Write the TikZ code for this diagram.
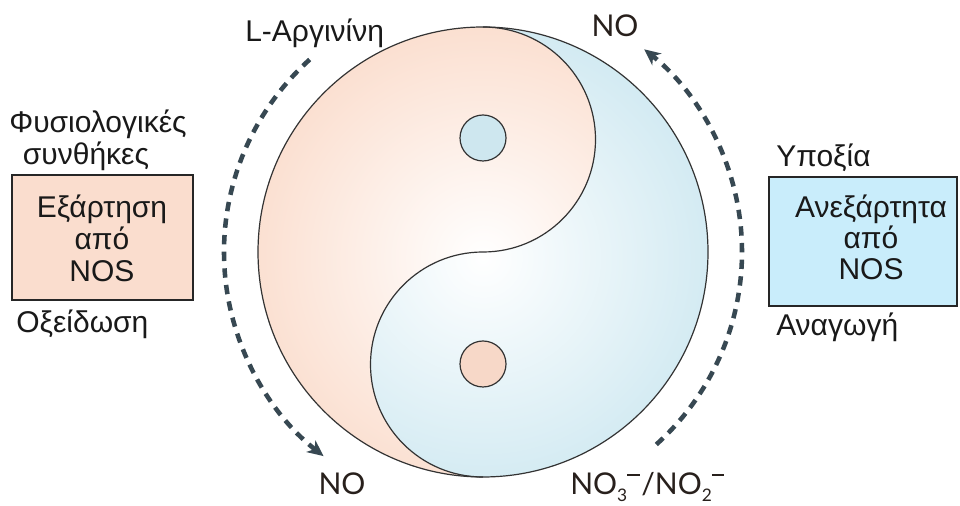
\documentclass[tikz,border=0pt]{standalone}
\usepackage{fontspec}
\setmainfont{Liberation Sans}
\newfontfamily\nofont{Lato}
\usetikzlibrary{arrows.meta,calc}
\definecolor{pinkE}{RGB}{251,223,208}
\definecolor{blueE}{RGB}{210,234,242}
\definecolor{dotB}{RGB}{206,231,239}
\definecolor{dotP}{RGB}{247,216,200}
\definecolor{boxP}{RGB}{250,221,206}
\definecolor{boxB}{RGB}{201,237,251}
\definecolor{arrowc}{RGB}{55,72,82}
\definecolor{txt}{RGB}{25,25,25}
\definecolor{notxt}{RGB}{40,32,28}
\newcommand{\chemsub}[1]{\raisebox{-0.22em}{\fontsize{13}{13}\selectfont #1}}
\newcommand{\chemminus}{\raisebox{0.62em}{\rule{0.42em}{0.07em}}\kern0.05em}
\begin{document}
\begin{tikzpicture}[x=0.75pt,y=0.75pt,
 lbl/.style={font=\fontsize{22.5}{26}\selectfont, text=txt, inner sep=0pt},
 chem/.style={font=\nofont\fontsize{22.5}{26}\selectfont, text=notxt, inner sep=0pt},
 flow/.style={draw=arrowc, line width=3.4pt, dash pattern=on 7pt off 5.5pt, -{Stealth[length=12pt,width=11pt,inset=3.5pt]}},
 boxstyle/.style={draw=black!85, line width=1.1pt, inner sep=0pt},
 outline/.style={draw=black!80, line width=0.9pt}]
\useasboundingbox (0,0) rectangle (960,506);
\fill[white] (0,0) rectangle (960,506);

\coordinate (c) at (483,254);
% blue half (whole disc)
\begin{scope}
 \clip (c) circle (225);
 \shade[inner color=white, outer color=blueE] ($(c)+(0,-6)$) circle (235);
\end{scope}
% pink half
\begin{scope}
 \clip (483,479) arc[start angle=90,end angle=270,radius=225]
       arc[start angle=270,end angle=90,radius=112.5]
       arc[start angle=-90,end angle=90,radius=112.5] -- cycle;
 \shade[inner color=white, outer color=pinkE] ($(c)+(0,-6)$) circle (235);
\end{scope}
% outlines
\draw[outline] (c) circle (225);
\draw[outline] (483,29) arc[start angle=270,end angle=90,radius=112.5]
       arc[start angle=-90,end angle=90,radius=112.5];
\node (dtop) [outline, circle, fill=dotB, minimum size=34.5pt, inner sep=0pt] at (483,368) {};
\node (dbot) [outline, circle, fill=dotP, minimum size=34.5pt, inner sep=0pt] at (483,142) {};

% dashed arrows
\coordinate (la) at ($(c)+(132:259)$);
\coordinate (ra) at ($(c)+(-48:259)$);
\draw[flow] (la) arc[start angle=132, end angle=232, radius=259];
\draw[flow] (ra) arc[start angle=-48, end angle=51.5, radius=259];

% boxes
\node (lbox) [boxstyle, fill=boxP, minimum width=135.75pt, minimum height=93.75pt] at (102.5,268.5) {};
\node (rbox) [boxstyle, fill=boxB, minimum width=141pt, minimum height=96.75pt] at (863,264.5) {};

\node (l1) [lbl, anchor=base] at (102,288) {Εξάρτηση};
\node (l2) [lbl, anchor=base] at (102,256) {από};
\node (l3) [lbl, anchor=base] at (102,224) {NOS};
\node (r1) [lbl, anchor=base] at (871,288) {Ανεξάρτητα};
\node (r2) [lbl, anchor=base] at (871,257) {από};
\node (r3) [lbl, anchor=base] at (871,226) {NOS};

% side labels
\node (fys) [lbl, anchor=base] at (98,373) {Φυσιολογικές};
\node (syn) [lbl, anchor=base] at (86,341) {συνθήκες};
\node (oxe) [lbl, anchor=base west] at (16,173) {Οξείδωση};
\node (ypo) [lbl, anchor=base west] at (776,339) {Υποξία};
\node (ana) [lbl, anchor=base west] at (776,170) {Αναγωγή};
\node (arg) [lbl, anchor=base west] at (245,464) {L-Αργινίνη};

% chemical labels
\node (notop) [chem, anchor=base] at (615,469) {NO};
\node (nobot) [chem, anchor=base] at (342,11) {NO};
\node (nox) [chem, anchor=base west] at (570,11) {NO\chemsub{3}\chemminus/NO\chemsub{2}\chemminus};
\end{tikzpicture}
\end{document}
